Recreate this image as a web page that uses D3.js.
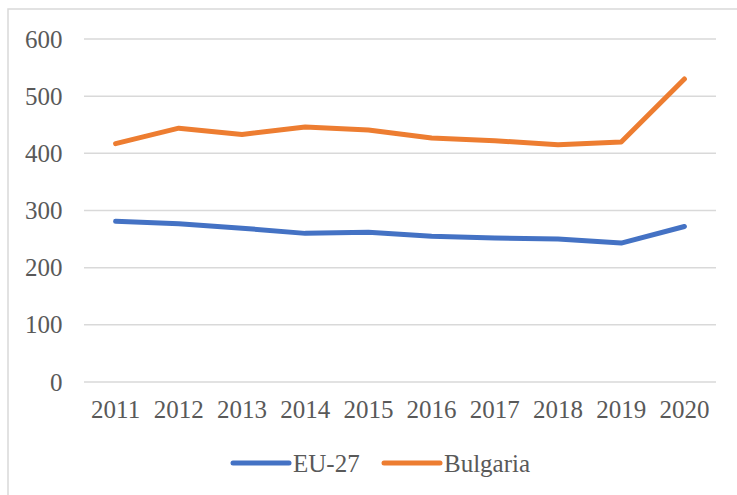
<!DOCTYPE html>
<html lang="en">
<head>
<meta charset="UTF-8">
<title>EU-27 vs Bulgaria</title>
<script src="https://d3js.org/d3.v7.min.js"></script>
<style>
  body { margin: 0; background: #fff; }
  text { font-family: "Liberation Serif", "Times New Roman", serif; fill: #595959; }
</style>
</head>
<body>
<div id="chart"></div>
<script>
// data
var years = ["2011", "2012", "2013", "2014", "2015", "2016", "2017", "2018", "2019", "2020"];
var eu27 = [281, 277, 269, 260, 262, 255, 252, 250, 243, 272];
var bulgaria = [417, 444, 433, 446, 441, 427, 422, 415, 420, 530];
var yTicks = [0, 100, 200, 300, 400, 500, 600];
var seriesNames = ["EU-27", "Bulgaria"];
var seriesColors = ["#4472C4", "#ED7D31"];

var W = 737, H = 495;
var margin = { top: 39, right: 21, bottom: 113, left: 84 };
var width = W - margin.left - margin.right;
var height = H - margin.top - margin.bottom;

var svg = d3.select("#chart").append("svg")
    .attr("width", W)
    .attr("height", H);

// chart frame (only top and left edges visible in the crop)
svg.append("path")
    .attr("d", "M8,500 L8,9 L740,9")
    .attr("fill", "none")
    .attr("stroke", "#d9d9d9")
    .attr("stroke-width", 1.5);

var g = svg.append("g")
    .attr("transform", "translate(" + margin.left + "," + margin.top + ")");

var x = d3.scaleBand()
    .domain(years)
    .range([0, width]);

var y = d3.scaleLinear()
    .domain([0, 600])
    .range([height, 0]);

// gridlines
g.selectAll(".grid")
    .data(yTicks)
    .enter()
    .append("line")
    .attr("x1", 0)
    .attr("x2", width)
    .attr("y1", function(d) { return y(d); })
    .attr("y2", function(d) { return y(d); })
    .attr("stroke", "#d9d9d9")
    .attr("stroke-width", 1.5);

// y axis labels
var yAxis = g.append("g")
    .call(d3.axisLeft(y).tickValues(yTicks).tickSize(0).tickPadding(21.5));
yAxis.select(".domain").remove();
yAxis.selectAll("text")
    .style("font-size", "25px")
    .attr("fill", "#595959");

// x axis labels
var xAxis = g.append("g")
    .attr("transform", "translate(0," + height + ")")
    .call(d3.axisBottom(x).tickSize(0).tickPadding(18.5));
xAxis.select(".domain").remove();
xAxis.selectAll("text")
    .style("font-size", "25px")
    .attr("fill", "#595959");

var line = d3.line()
    .x(function(d, i) { return x(years[i]) + x.bandwidth() / 2; })
    .y(function(d) { return y(d); });

[eu27, bulgaria].forEach(function(series, k) {
    g.append("path")
        .datum(series)
        .attr("fill", "none")
        .attr("stroke", seriesColors[k])
        .attr("stroke-width", 5)
        .attr("stroke-linecap", "round")
        .attr("stroke-linejoin", "round")
        .attr("d", line);
});

// legend
var legendX = [233, 384];
var legend = svg.selectAll(".legend")
    .data(seriesNames)
    .enter()
    .append("g")
    .attr("transform", function(d, i) { return "translate(" + legendX[i] + ",463)"; });

legend.append("line")
    .attr("x1", 0)
    .attr("x2", 56)
    .attr("stroke", function(d, i) { return seriesColors[i]; })
    .attr("stroke-width", 5)
    .attr("stroke-linecap", "round");

legend.append("text")
    .attr("x", 60)
    .attr("dy", "0.35em")
    .style("font-size", "25px")
    .text(function(d) { return d; });
</script>
</body>
</html>
